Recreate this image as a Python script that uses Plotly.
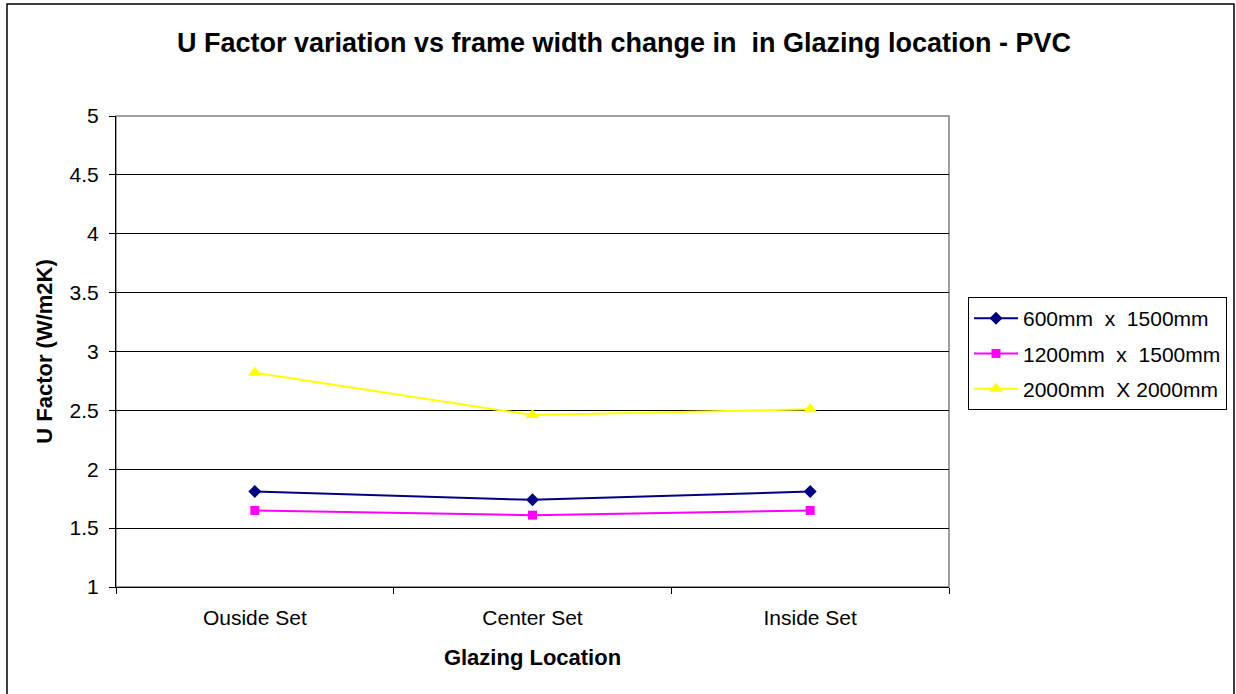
import plotly.graph_objects as go

# ---------------- DADOS ----------------
locais = ["Ouside Set", "Center Set", "Inside Set"]
serie_600x1500 = [1.81, 1.74, 1.81]
serie_1200x1500 = [1.65, 1.61, 1.65]
serie_2000x2000 = [2.82, 2.46, 2.51]
nomes = ["600mm  x  1500mm", "1200mm  x  1500mm", "2000mm  X 2000mm"]
y_ticks = [1, 1.5, 2, 2.5, 3, 3.5, 4, 4.5, 5]

W, H = 1236, 694
L, R, T, B = 116, 287, 116, 107
FONTE = "Liberation Sans, Arial, sans-serif"

fig = go.Figure()

estilos = [
    (serie_600x1500, "#000080", "diamond", 10),
    (serie_1200x1500, "#FF00FF", "square", 9),
    (serie_2000x2000, "#FFFF00", "triangle-up", 12),
]
for i, ((vals, cor, simbolo, tam), nome) in enumerate(zip(estilos, nomes)):
    fig.add_trace(go.Scatter(
        x=locais, y=vals, name=nome, mode="lines+markers", legendgroup=f"g{i}",
        line=dict(color=cor, width=2),
        marker=dict(symbol=simbolo, size=tam, color=cor),
    ))

pw, ph = W - L - R, H - T - B

# borda externa do gráfico
fig.add_shape(type="rect", xref="paper", yref="paper",
              x0=(7 - L) / pw, x1=(1234 - L) / pw,
              y0=(H - B - 720) / ph, y1=(H - B - 4) / ph,
              line=dict(color="black", width=1.5), layer="below")

fig.update_layout(
    width=W, height=H,
    margin=dict(l=L, r=R, t=T, b=B, autoexpand=False),
    paper_bgcolor="white", plot_bgcolor="white",
    title=dict(text="<b>U Factor variation vs frame width change in  in Glazing location - PVC</b>",
               x=624 / W, xanchor="center", y=1 - 43 / H, yanchor="middle",
               font=dict(size=27, color="black", family=FONTE)),
    font=dict(family=FONTE, color="black", size=21),
    legend=dict(x=(968 - L) / pw, xanchor="left", y=(H - B - 297) / ph, yanchor="top",
                bordercolor="black", borderwidth=1, bgcolor="white", itemwidth=44,
                font=dict(size=21, family=FONTE), tracegroupgap=5),
)

fig.update_xaxes(
    type="category", tickson="boundaries", ticks="outside", ticklen=6, tickcolor="black",
    showline=True, linecolor="black", linewidth=1, mirror=False, showgrid=False,
    tickfont=dict(size=21), range=[-0.5, 2.5], ticklabelstandoff=12,
    title=dict(text="<b>Glazing Location</b>", font=dict(size=22), standoff=21),
)
fig.update_yaxes(
    range=[1, 5], tickvals=y_ticks, ticktext=[f"{v:g}" for v in y_ticks],
    ticks="outside", ticklen=6, tickcolor="black",
    showline=True, linecolor="black", linewidth=1,
    showgrid=True, gridcolor="black", gridwidth=1, zeroline=False,
    tickfont=dict(size=21), ticklabelstandoff=6,
    title=dict(text="<b>U Factor (W/m2K)</b>", font=dict(size=22), standoff=10),
)

# borda cinza da área do gráfico
fig.add_shape(type="rect", xref="paper", yref="paper", x0=0, x1=1, y0=0, y1=1,
              line=dict(color="#808080", width=1.5), layer="below")

fig.write_html("out.html", config={"displayModeBar": False},
               post_script="document.body.style.margin='0';")
